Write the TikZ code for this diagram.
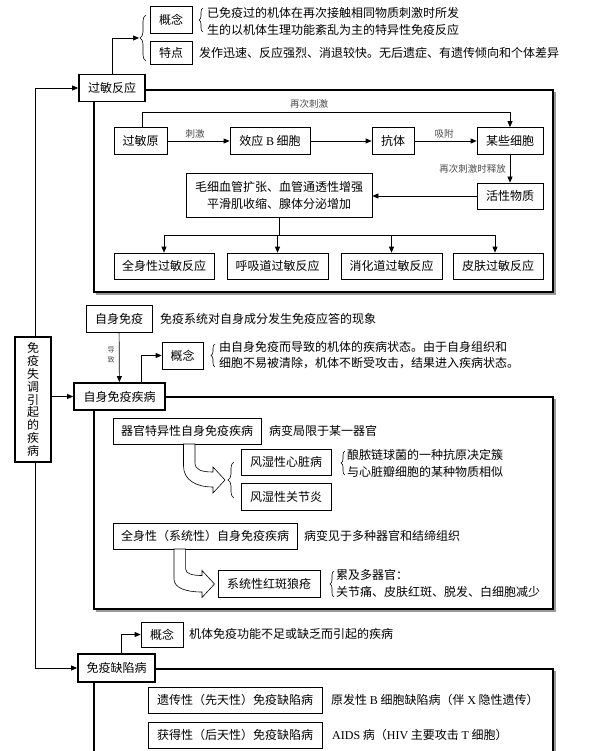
\documentclass[tikz,border=0pt]{standalone}
\usepackage{fontspec}
\setmainfont{Liberation Serif}
\newfontfamily\cnfam{Noto Sans CJK SC}
\newfontfamily\ltnfam{Liberation Serif}
\newcommand\ltn[1]{{\ltnfam #1}}
\newcommand\cnf{\cnfam\fontsize{12}{14}\selectfont}
\newcommand\cntwo{\cnfam\fontsize{12}{17}\selectfont}
\newcommand\cnvert{\cnfam\fontsize{12}{12.8}\selectfont}
\newcommand\cnsmall{\cnfam\fontsize{9.5}{11}\selectfont}
\newcommand\cntiny{\cnfam\fontsize{7}{9.5}\selectfont}
\usetikzlibrary{arrows.meta,decorations.pathreplacing}
\tikzset{
  bx/.style={draw, line width=0.7pt, inner sep=0pt, font=\cnf, align=center, fill=white},
  tbx/.style={bx, line width=1.8pt},
  arr/.style={-{Triangle[length=6pt,width=5pt]}, line width=0.7pt},
  ln/.style={line width=0.7pt},
  lbl/.style={font=\cnsmall, text=black!70, inner sep=0pt},
  txt/.style={font=\cnf, inner sep=0pt, anchor=west},
  lbrace/.style={decorate, decoration={brace, amplitude=6pt}, line width=0.6pt},
  sbrace/.style={decorate, decoration={brace, amplitude=4pt}, line width=0.6pt},
  frm/.style={line width=1.2pt, line cap=rect},
  shd/.style={line width=1.2pt, black!40},
  blk/.style={draw, line width=0.6pt, fill=white, line join=miter},
}
\begin{document}
\begin{tikzpicture}[x=1pt,y=-1pt]
\useasboundingbox (0,0) rectangle (608,751);
\fill[white] (0,0) rectangle (608,751);

% ---------- frames ----------
\draw[shd] (555,92) -- (555,294) -- (96,294);
\draw[frm] (145,90) -- (553,90) -- (553,292) -- (94,292) -- (94,101);
\draw[shd] (555,399) -- (555,611) -- (96,611);
\draw[frm] (165,397) -- (553,397) -- (553,609) -- (94,609) -- (94,410);
\draw[shd] (555,671) -- (555,751);
\draw[frm] (155,669) -- (553,669) -- (553,760);
\draw[frm] (94,682) -- (94,760);

% ---------- left column ----------
\node[tbx, minimum width=36, minimum height=125, font=\cnvert] (main) at (33,399.5) {免\\疫\\失\\调\\引\\起\\的\\疾\\病};
\coordinate (topc) at (35,88);
\coordinate (botc) at (35,668);

% ---------- section 1 ----------
\node[tbx, minimum width=66, minimum height=27] (gmfy) at (112,88) {过敏反应};
\node[bx, minimum width=42, minimum height=27] (gn1) at (171,19.5) {概念};
\node[bx, minimum width=42, minimum height=23] (td1) at (171,52.5) {特点};
\draw[lbrace] (146,61) -- (146,15);
\coordinate (b1) at (139,38);
\draw[sbrace] (203,32) -- (203,8);
\node[txt] (g1a) at (207,13) {已免疫过的机体在再次接触相同物质刺激时所发};
\node[txt] (g1b) at (207,30) {生的以机体生理功能紊乱为主的特异性免疫反应};
\node[txt] (t1) at (199,53) {发作迅速、反应强烈、消退较快。无后遗症、有遗传倾向和个体差异};

\draw[ln] (topc) -- (topc |- main.north);
\draw[arr] (topc) -- (gmfy.west);
\draw[arr] (gmfy.north) -- (gmfy.north |- b1) -- (b1);

\node[bx, minimum width=53, minimum height=27] (gmy) at (140.5,141) {过敏原};
\node[bx, minimum width=80, minimum height=27] (xyb) at (270,141) {效应 \ltn{B} 细胞};
\node[bx, minimum width=42, minimum height=27] (kt) at (393,141) {抗体};
\node[bx, minimum width=66, minimum height=27] (mxb) at (510,141) {某些细胞};
\node[bx, minimum width=66, minimum height=26] (hxwz) at (510,196) {活性物质};
\node[bx, minimum width=186, minimum height=44, font=\cntwo] (mxg) at (279,195) {毛细血管扩张、血管通透性增强\\平滑肌收缩、腺体分泌增加};

\node[lbl] (l1) at (309,104) {再次刺激};
\node[lbl] (l2) at (195,134) {刺激};
\node[lbl] (l3) at (444,134) {吸附};
\node[lbl, anchor=east] (l4) at (506,169) {再次刺激时释放};

\draw[arr] (gmy) -- (xyb);
\draw[arr] (xyb) -- (kt);
\draw[arr] (kt) -- (mxb);
\draw[arr] ([xshift=1.5pt]gmy.north) -- ++(0,-15) -| (mxb.north);
\draw[arr] (mxb) -- (hxwz);
\draw[arr] (hxwz.west) -- (hxwz.west -| mxg.east);

\node[bx, minimum width=100, minimum height=26] (q1) at (164,266) {全身性过敏反应};
\node[bx, minimum width=101, minimum height=26] (q2) at (277.5,266) {呼吸道过敏反应};
\node[bx, minimum width=101, minimum height=26] (q3) at (391.5,266) {消化道过敏反应};
\node[bx, minimum width=90, minimum height=26] (q4) at (498,266) {皮肤过敏反应};
\coordinate (hy) at (0,235);
\coordinate (h4) at (495,235);
\draw[ln] (mxg.south) -- (mxg.south |- hy);
\draw[ln] (q1.north |- hy) -- (h4);
\draw[arr] (q1.north |- hy) -- (q1.north);
\draw[arr] (q2.north |- hy) -- (q2.north);
\draw[arr] (q3.north |- hy) -- (q3.north);
\draw[arr] (h4) -- (h4 |- q4.north);

% ---------- section 2 ----------
\node[bx, minimum width=66, minimum height=27] (zsmy) at (119,318.5) {自身免疫};
\node[txt] (zsmyt) at (160,319) {免疫系统对自身成分发生免疫应答的现象};
\node[tbx, minimum width=91, minimum height=27] (zsjb) at (119.5,396.5) {自身免疫疾病};
\draw[arr] (zsmy) -- (zsjb);
\node[lbl, font=\cntiny, align=center] (dz) at (111,355) {导\\致};
\draw[arr] (main.east |- zsjb) -- (zsjb.west);
\node[bx, minimum width=41, minimum height=27] (gn2) at (182.5,355.5) {概念};
\draw[arr] ([xshift=21.5pt]zsjb.north) |- (gn2.west);
\draw[sbrace] (215,367) -- (215,344);
\node[txt] (g2a) at (219,347) {由自身免疫而导致的机体的疾病状态。由于自身组织和};
\node[txt] (g2b) at (219,363) {细胞不易被清除，机体不断受攻击，结果进入疾病状态。};

\node[bx, minimum width=148, minimum height=26] (qg) at (187,431) {器官特异性自身免疫疾病};
\node[txt] (qgt) at (269,431) {病变局限于某一器官};
\draw[blk] (183.5,444) -- (183.5,466) .. controls (183.5,480) and (196,487) .. (213,487)
  -- (213,493) -- (225,480) -- (213,467) -- (213,472)
  .. controls (202,472) and (195,470) .. (195,463) -- (195,444) -- cycle;
\draw[lbrace] (234,498) -- (234,462);
\node[bx, minimum width=90, minimum height=26] (fxz) at (286,462) {风湿性心脏病};
\node[bx, minimum width=90, minimum height=27] (fgj) at (286,496.5) {风湿性关节炎};
\draw[sbrace] (345,475) -- (345,451);
\node[txt] (fxa) at (347,455) {酿脓链球菌的一种抗原决定簇};
\node[txt] (fxb) at (347,472) {与心脏瓣细胞的某种物质相似};

\node[bx, minimum width=184, minimum height=26] (qs) at (205,536) {全身性（系统性）自身免疫疾病};
\node[txt] (qst) at (304,536) {病变见于多种器官和结缔组织};
\draw[blk] (174,549) -- (174,579) .. controls (174,588) and (186,592) .. (202,592)
  -- (202,597.5) -- (214.5,584) -- (202,570.5) -- (202,575.5)
  .. controls (193,575.5) and (185.6,574) .. (185.6,569) -- (185.6,549) -- cycle;
\node[bx, minimum width=102, minimum height=27] (hblc) at (269,583.5) {系统性红斑狼疮};
\draw[sbrace] (334,597) -- (334,571);
\node[txt] (hba) at (336,575) {累及多器官：};
\node[txt] (hbb) at (336,592) {关节痛、皮肤红斑、脱发、白细胞减少};

% ---------- section 3 ----------
\node[bx, minimum width=42, minimum height=25] (gn3) at (162,634.5) {概念};
\node[txt] (gn3t) at (189,634) {机体免疫功能不足或缺乏而引起的疾病};
\node[tbx, minimum width=77, minimum height=28] (myq) at (116.5,668) {免疫缺陷病};
\draw[arr] ([xshift=4.5pt]myq.north) |- (gn3.west);
\draw[ln] (main.south -| botc) -- (botc);
\draw[arr] (botc) -- (myq.west);
\node[bx, minimum width=174, minimum height=26] (yc) at (235,700) {遗传性（先天性）免疫缺陷病};
\node[txt] (yct) at (331,700) {原发性 \ltn{B} 细胞缺陷病（伴 \ltn{X} 隐性遗传）};
\node[bx, minimum width=174, minimum height=26] (hd) at (235,735) {获得性（后天性）免疫缺陷病};
\node[txt] (hdt) at (332,735) {\ltn{AIDS} 病（\ltn{HIV} 主要攻击 \ltn{T} 细胞）};
\end{tikzpicture}
\end{document}
